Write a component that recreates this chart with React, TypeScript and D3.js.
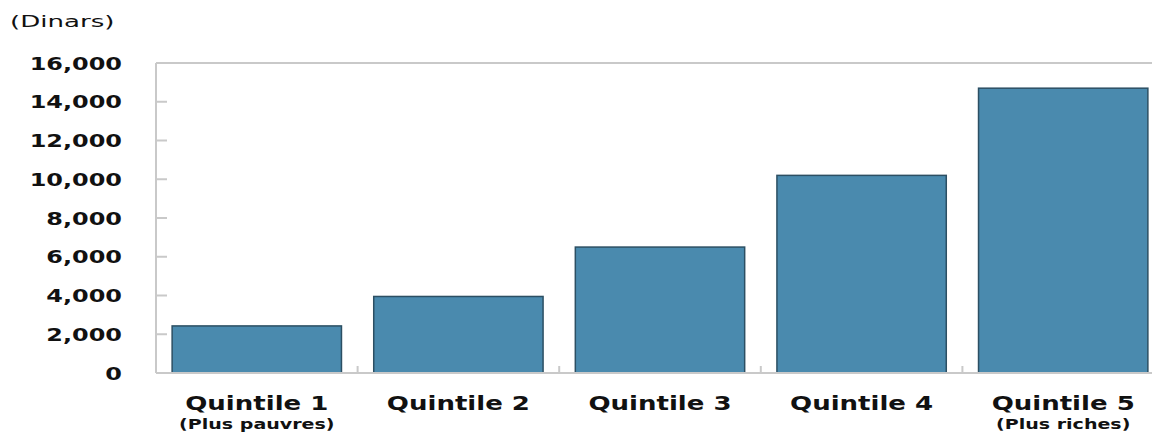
import React from "react";
import * as d3 from "d3";

const categories = ["Quintile 1", "Quintile 2", "Quintile 3", "Quintile 4", "Quintile 5"];
const subLabels = ["(Plus pauvres)", "", "", "", "(Plus riches)"];
const values = [2430, 3950, 6500, 10200, 14700];
const yTicks = [0, 2000, 4000, 6000, 8000, 10000, 12000, 14000, 16000];
const unitLabel = "(Dinars)";

const W = 1152, H = 432;
const left = 156, right = 1164, top = 63, bottom = 373;
const FONT = "'DejaVu Sans', Verdana, sans-serif";
const AXIS = "#c9c9c9";

function SText({ x, y, sx, anchor, size, weight, children }: any) {
  return (
    <text
      transform={`translate(${x},${y}) scale(${sx},1)`}
      textAnchor={anchor}
      fontSize={size}
      fontWeight={weight}
      fontFamily={FONT}
      fill="#111"
    >
      {children}
    </text>
  );
}

export default function App() {
  const x = d3.scaleBand<string>().domain(categories).range([left, right]).paddingInner(0.16).paddingOuter(0.08);
  const y = d3.scaleLinear().domain([0, 16000]).range([bottom, top]);
  const fmt = d3.format(",");
  const bandW = (right - left) / categories.length;
  const bw = bandW * 0.84;

  return (
    <svg width={W} height={H} style={{ position: "absolute", left: 0, top: 0, background: "#fff" }}>
      <SText x={10} y={27} sx={1.58} anchor="start" size={16.5} weight="normal">{unitLabel}</SText>
      <line x1={left} x2={W} y1={top} y2={top} stroke={AXIS} strokeWidth={2} />
      <line x1={left} x2={left} y1={top} y2={bottom} stroke={AXIS} strokeWidth={2} />
      {yTicks.map((t) => (
        <g key={t}>
          <line x1={left} x2={left + 11} y1={y(t)} y2={y(t)} stroke={AXIS} strokeWidth={2} />
          <SText x={122} y={y(t) + 6.5} sx={1.33} anchor="end" size={18} weight="bold">{fmt(t)}</SText>
        </g>
      ))}
      {categories.map((c, i) => {
        const start = left + i * bandW;
        const cx = start + bandW / 2;
        const bx = cx - bw / 2;
        return (
          <g key={c}>
            <rect x={bx} y={y(values[i])} width={bw} height={bottom - y(values[i])}
              fill="#4a8aae" stroke="#2c4f63" strokeWidth={1.5} />
            {i > 0 && (
              <line x1={start} x2={start} y1={bottom} y2={bottom - 7} stroke={AXIS} strokeWidth={2} />
            )}
            <SText x={cx} y={410} sx={1.37} anchor="middle" size={19} weight="bold">{c}</SText>
            {subLabels[i] && (
              <SText x={cx} y={429} sx={1.41} anchor="middle" size={13.5} weight="bold">{subLabels[i]}</SText>
            )}
          </g>
        );
      })}
      <line x1={left} x2={W} y1={bottom} y2={bottom} stroke={AXIS} strokeWidth={2} />
    </svg>
  );
}
